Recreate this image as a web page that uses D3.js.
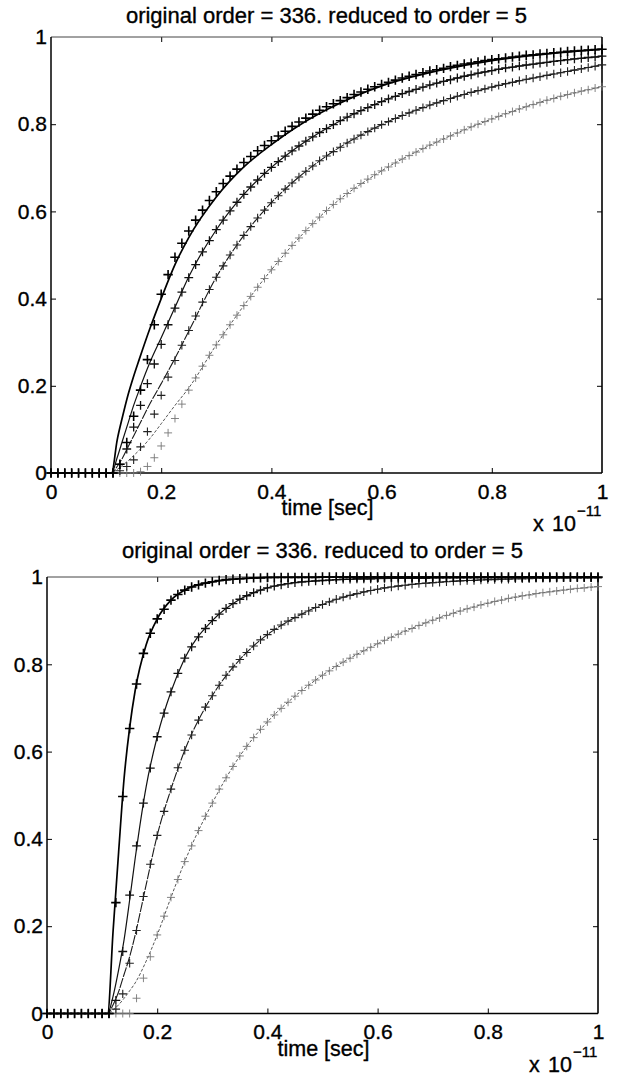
<!DOCTYPE html>
<html><head><meta charset="utf-8">
<script src="https://cdn.jsdelivr.net/npm/d3@7"></script>
<style>
body{margin:0;background:#fff}
svg{display:block;background:#fff}
text{font-family:"Liberation Sans",Arial,Helvetica,sans-serif;fill:#000}
</style>
</head><body>
<svg id="chart" width="618" height="1078"></svg>
<script>
// ---------- data ----------
const sampleTimes = [0,0.0125,0.025,0.0375,0.05,0.0625,0.075,0.0875,0.1,0.1125,
 0.125,0.1375,0.15,0.1625,0.175,0.1875,0.2,0.2125,0.225,0.2375,
 0.25,0.2625,0.275,0.2875,0.3,0.3125,0.325,0.3375,0.35,0.3625,
 0.375,0.3875,0.4,0.4125,0.425,0.4375,0.45,0.4625,0.475,0.4875,
 0.5,0.5125,0.525,0.5375,0.55,0.5625,0.575,0.5875,0.6,0.6125,
 0.625,0.6375,0.65,0.6625,0.675,0.6875,0.7,0.7125,0.725,0.7375,
 0.75,0.7625,0.775,0.7875,0.8,0.8125,0.825,0.8375,0.85,0.8625,
 0.875,0.8875,0.9,0.9125,0.925,0.9375,0.95,0.9625,0.975,0.9875,1];

const lineTimes = [0,0.11,0.12,0.13,0.14,0.15,0.16,0.18,0.2,0.225,0.25,0.3,0.35,0.4,0.45,0.5,0.6,0.7,0.8,0.9,1];

// top panel: original model (markers)
const topOrig1 = [0,0,0,0,0,0,0,0,0,0,
 0.02,0.07,0.13,0.19,0.26,0.34,0.41,0.455,0.495,0.527,
 0.555,0.58,0.603,0.625,0.645,0.664,0.681,0.697,0.712,0.726,
 0.739,0.751,0.762,0.773,0.784,0.795,0.805,0.814,0.823,0.832,
 0.84,0.847,0.854,0.861,0.868,0.874,0.88,0.886,0.891,0.896,
 0.901,0.906,0.91,0.914,0.918,0.922,0.925,0.928,0.932,0.935,
 0.938,0.94,0.943,0.946,0.948,0.95,0.952,0.954,0.956,0.958,
 0.959,0.961,0.962,0.964,0.965,0.967,0.968,0.969,0.97,0.971,0.972];
const topOrig2 = [0,0,0,0,0,0,0,0,0,0,
 0.02,0.055,0.105,0.155,0.205,0.25,0.295,0.34,0.378,0.415,
 0.448,0.478,0.507,0.533,0.558,0.58,0.601,0.621,0.639,0.656,
 0.672,0.687,0.701,0.714,0.727,0.739,0.75,0.761,0.771,0.781,
 0.79,0.799,0.808,0.816,0.824,0.831,0.838,0.845,0.852,0.858,
 0.864,0.87,0.875,0.88,0.885,0.89,0.894,0.898,0.902,0.906,
 0.91,0.913,0.917,0.92,0.923,0.926,0.929,0.931,0.934,0.936,
 0.938,0.94,0.942,0.944,0.946,0.948,0.95,0.951,0.953,0.954,0.956];
const topOrig3 = [0,0,0,0,0,0,0,0,0,0,
 0.005,0.015,0.03,0.06,0.095,0.135,0.178,0.22,0.258,0.293,
 0.327,0.36,0.392,0.421,0.449,0.475,0.5,0.523,0.545,0.565,
 0.585,0.603,0.62,0.636,0.651,0.665,0.679,0.692,0.704,0.716,
 0.727,0.737,0.747,0.757,0.766,0.775,0.783,0.791,0.799,0.806,
 0.813,0.82,0.826,0.832,0.838,0.844,0.849,0.854,0.859,0.864,
 0.868,0.873,0.877,0.881,0.885,0.889,0.893,0.896,0.9,0.903,
 0.906,0.909,0.912,0.915,0.918,0.921,0.924,0.927,0.93,0.933,0.936];
const topOrig4 = [0,0,0,0,0,0,0,0,0,0,
 0,0,0,0.003,0.015,0.035,0.062,0.092,0.125,0.158,
 0.19,0.218,0.245,0.27,0.294,0.317,0.34,0.362,0.384,0.405,
 0.426,0.446,0.466,0.485,0.504,0.522,0.539,0.556,0.572,0.587,
 0.602,0.616,0.629,0.641,0.653,0.664,0.674,0.684,0.693,0.702,
 0.711,0.72,0.728,0.736,0.744,0.752,0.759,0.766,0.773,0.78,
 0.787,0.794,0.8,0.806,0.812,0.818,0.824,0.829,0.835,0.84,
 0.845,0.85,0.855,0.859,0.864,0.868,0.872,0.876,0.879,0.883,0.886];

// top panel: reduced model (lines)
const topRed1 = [0,0,0.075,0.13,0.18,0.222,0.26,0.333,0.4,0.478,0.54,0.633,0.702,0.753,0.797,0.833,0.888,0.922,0.946,0.961,0.972];
const topRed2 = [0,0,0.035,0.075,0.115,0.155,0.19,0.255,0.31,0.38,0.45,0.558,0.639,0.701,0.75,0.79,0.852,0.894,0.923,0.942,0.956];
const topRed3 = [0,0,0.015,0.035,0.06,0.085,0.11,0.16,0.205,0.263,0.325,0.449,0.545,0.62,0.679,0.727,0.799,0.849,0.885,0.912,0.936];
const topRed4 = [0,0,0.008,0.018,0.028,0.04,0.052,0.08,0.113,0.155,0.195,0.294,0.384,0.466,0.539,0.602,0.693,0.759,0.812,0.855,0.886];

// bottom panel: original model (markers)
const botOrig1 = [0,0,0,0,0,0,0,0,0,0,
 0.254,0.497,0.653,0.755,0.825,0.871,0.904,0.926,0.947,0.96,
 0.97,0.977,0.982,0.986,0.989,0.992,0.994,0.995,0.996,0.997,
 0.998,0.998,0.999,0.999,0.999,0.999,0.999,0.999,0.999,0.999,
 1,1,1,1,1,1,1,1,1,1,
 1,1,1,1,1,1,1,1,1,1,
 1,1,1,1,1,1,1,1,1,1,
 1,1,1,1,1,1,1,1,1,1,1];
const botOrig2 = [0,0,0,0,0,0,0,0,0,0,
 0.03,0.142,0.271,0.384,0.482,0.562,0.634,0.688,0.737,0.779,
 0.814,0.84,0.863,0.882,0.9,0.915,0.928,0.939,0.949,0.957,
 0.964,0.97,0.975,0.979,0.982,0.985,0.987,0.989,0.99,0.991,
 0.992,0.993,0.994,0.995,0.995,0.996,0.996,0.996,0.997,0.997,
 0.997,0.997,0.997,0.997,0.997,0.997,0.998,0.998,0.998,0.998,
 0.998,0.998,0.998,0.998,0.998,0.998,0.998,0.998,0.999,0.999,
 0.999,0.999,0.999,0.999,0.999,0.999,0.999,0.999,0.999,0.999,0.999];
const botOrig3 = [0,0,0,0,0,0,0,0,0,0,
 0.01,0.045,0.115,0.19,0.268,0.342,0.408,0.463,0.514,0.563,
 0.603,0.638,0.672,0.702,0.728,0.752,0.775,0.794,0.811,0.827,
 0.842,0.856,0.868,0.88,0.89,0.899,0.907,0.915,0.922,0.93,
 0.937,0.943,0.949,0.954,0.958,0.962,0.966,0.969,0.972,0.975,
 0.977,0.979,0.981,0.983,0.985,0.986,0.987,0.988,0.989,0.99,
 0.991,0.992,0.992,0.993,0.994,0.994,0.995,0.995,0.996,0.996,
 0.996,0.997,0.997,0.997,0.997,0.998,0.998,0.998,0.998,0.998,0.998];
const botOrig4 = [0,0,0,0,0,0,0,0,0,0,
 0,0,0,0.035,0.081,0.13,0.18,0.223,0.266,0.307,
 0.348,0.384,0.419,0.452,0.482,0.514,0.54,0.566,0.59,0.612,
 0.632,0.651,0.668,0.684,0.699,0.713,0.727,0.74,0.752,0.764,
 0.775,0.785,0.795,0.805,0.814,0.823,0.831,0.839,0.847,0.855,
 0.862,0.869,0.876,0.882,0.889,0.895,0.901,0.906,0.912,0.917,
 0.922,0.927,0.931,0.936,0.94,0.944,0.947,0.951,0.954,0.957,
 0.959,0.962,0.964,0.966,0.968,0.97,0.972,0.974,0.975,0.977,0.978];

// bottom panel: reduced model (lines)
const botRed1 = [0,0,0.19,0.37,0.54,0.655,0.74,0.845,0.904,0.947,0.97,0.989,0.996,0.999,1,1,1,1,1,1,1];
const botRed2 = [0,0,0.04,0.1,0.17,0.26,0.355,0.52,0.634,0.737,0.814,0.9,0.949,0.975,0.987,0.992,0.996,0.998,0.999,0.999,0.999];
const botRed3 = [0,0,0.02,0.05,0.09,0.13,0.18,0.295,0.408,0.514,0.603,0.728,0.811,0.868,0.907,0.937,0.972,0.987,0.994,0.997,0.998];
const botRed4 = [0,0,0.008,0.02,0.035,0.052,0.07,0.12,0.18,0.266,0.348,0.482,0.59,0.668,0.727,0.775,0.847,0.901,0.94,0.964,0.978];

const tickValues = [0,0.2,0.4,0.6,0.8,1];
const tickLabels = ["0","0.2","0.4","0.6","0.8","1"];
const titleText = "original order = 336. reduced to order = 5";
const xLabelText = "time [sec]";
const expX = "x";
const expBase = "10";
const expPower = "\u221211";

// ---------- layout / style ----------
const panels = [
  {box:{l:51, r:602, t:37, b:473}, titleY:23,
   orig:[topOrig1,topOrig2,topOrig3,topOrig4], red:[topRed1,topRed2,topRed3,topRed4]},
  {box:{l:47, r:598, t:577, b:1013.5}, titleY:558,
   orig:[botOrig1,botOrig2,botOrig3,botOrig4], red:[botRed1,botRed2,botRed3,botRed4]}
];
const lineStyles = [
  {stroke:"#000", width:1.7, dash:null},
  {stroke:"#111", width:1.2, dash:null},
  {stroke:"#1a1a1a", width:1.1, dash:"10,1.2"},
  {stroke:"#555", width:1.0, dash:"3,1.8"}
];
const markerStyles = [
  {stroke:"#000", width:1.6, size:4.7},
  {stroke:"#111", width:1.3, size:4.4},
  {stroke:"#222", width:1.1, size:4.2},
  {stroke:"#777", width:0.9, size:4.0}
];
const tickFont = 21, titleFont = 22, labelFont = 21.5;
const textStroke = 0.35;

const svg = d3.select("#chart");

panels.forEach(p => {
  const b = p.box;
  const x = d3.scaleLinear().domain([0,1]).range([b.l, b.r]);
  const y = d3.scaleLinear().domain([0,1]).range([b.b, b.t]);
  const g = svg.append("g");

  const fmt = (d,i) => tickLabels[i];
  const ax = g.append("g").attr("transform",`translate(0,${b.b})`)
    .call(d3.axisBottom(x).tickValues(tickValues).tickFormat(fmt).tickSize(-5).tickSizeOuter(0).tickPadding(11));
  const ay = g.append("g").attr("transform",`translate(${b.l},0)`)
    .call(d3.axisLeft(y).tickValues(tickValues).tickFormat(fmt).tickSize(-5).tickSizeOuter(0).tickPadding(4));
  const at = g.append("g").attr("transform",`translate(0,${b.t})`)
    .call(d3.axisTop(x).tickValues(tickValues).tickFormat("").tickSize(-5).tickSizeOuter(0));
  const ar = g.append("g").attr("transform",`translate(${b.r},0)`)
    .call(d3.axisRight(y).tickValues(tickValues).tickFormat("").tickSize(-5).tickSizeOuter(0));
  [ax,ay,at,ar].forEach(a => {
    a.select(".domain").remove();
    a.selectAll(".tick line").attr("stroke","#000").attr("stroke-width",1);
    a.selectAll("text").attr("font-size",tickFont).attr("font-family",'"Liberation Sans",Arial,sans-serif')
      .attr("fill","#000").attr("stroke","#000").attr("stroke-width",textStroke);
    a.selectAll(".tick line").filter(d => d===0 || d===1).remove();
  });

  // frame
  g.append("line").attr("x1",b.l).attr("x2",b.r).attr("y1",b.t).attr("y2",b.t).attr("stroke","#444").attr("stroke-width",1);
  g.append("line").attr("x1",b.l).attr("x2",b.r).attr("y1",b.b).attr("y2",b.b).attr("stroke","#000").attr("stroke-width",1.6);
  g.append("line").attr("x1",b.l).attr("x2",b.l).attr("y1",b.t).attr("y2",b.b).attr("stroke","#000").attr("stroke-width",1.5);
  g.append("line").attr("x1",b.r).attr("x2",b.r).attr("y1",b.t).attr("y2",b.b).attr("stroke","#000").attr("stroke-width",1.6);

  const line = d3.line().x(d => x(d[0])).y(d => y(d[1])).curve(d3.curveMonotoneX);
  for (let k = 3; k >= 0; k--) {
    const ls = lineStyles[k];
    g.append("path")
      .datum(lineTimes.map((t,i) => [t, p.red[k][i]]))
      .attr("d", line).attr("fill","none")
      .attr("stroke", ls.stroke).attr("stroke-width", ls.width)
      .attr("stroke-dasharray", ls.dash);
    const ms = markerStyles[k];
    g.append("g").selectAll("path")
      .data(sampleTimes.map((t,i) => [t, p.orig[k][i]]))
      .join("path")
      .attr("transform", d => `translate(${x(d[0])},${y(d[1])})`)
      .attr("d", `M${-ms.size},0H${ms.size}M0,${-ms.size}V${ms.size}`)
      .attr("stroke", ms.stroke).attr("stroke-width", ms.width).attr("fill","none");
  }

  const cx = (b.l + b.r) / 2;
  const txt = (xx, yy, size, s, anchor) => g.append("text").attr("x", xx).attr("y", yy)
    .attr("text-anchor", anchor || "start").attr("font-size", size)
    .attr("stroke","#000").attr("stroke-width", textStroke).text(s);
  txt(cx, p.titleY, titleFont, titleText, "middle");
  txt(cx + 1, b.b + 42, labelFont, xLabelText, "middle");
  txt(b.r - 69, b.b + 58, labelFont, expX);
  txt(b.r - 50, b.b + 58, labelFont, expBase);
  txt(b.r - 25, b.b + 43, 15, expPower);
});
</script>
</body></html>
